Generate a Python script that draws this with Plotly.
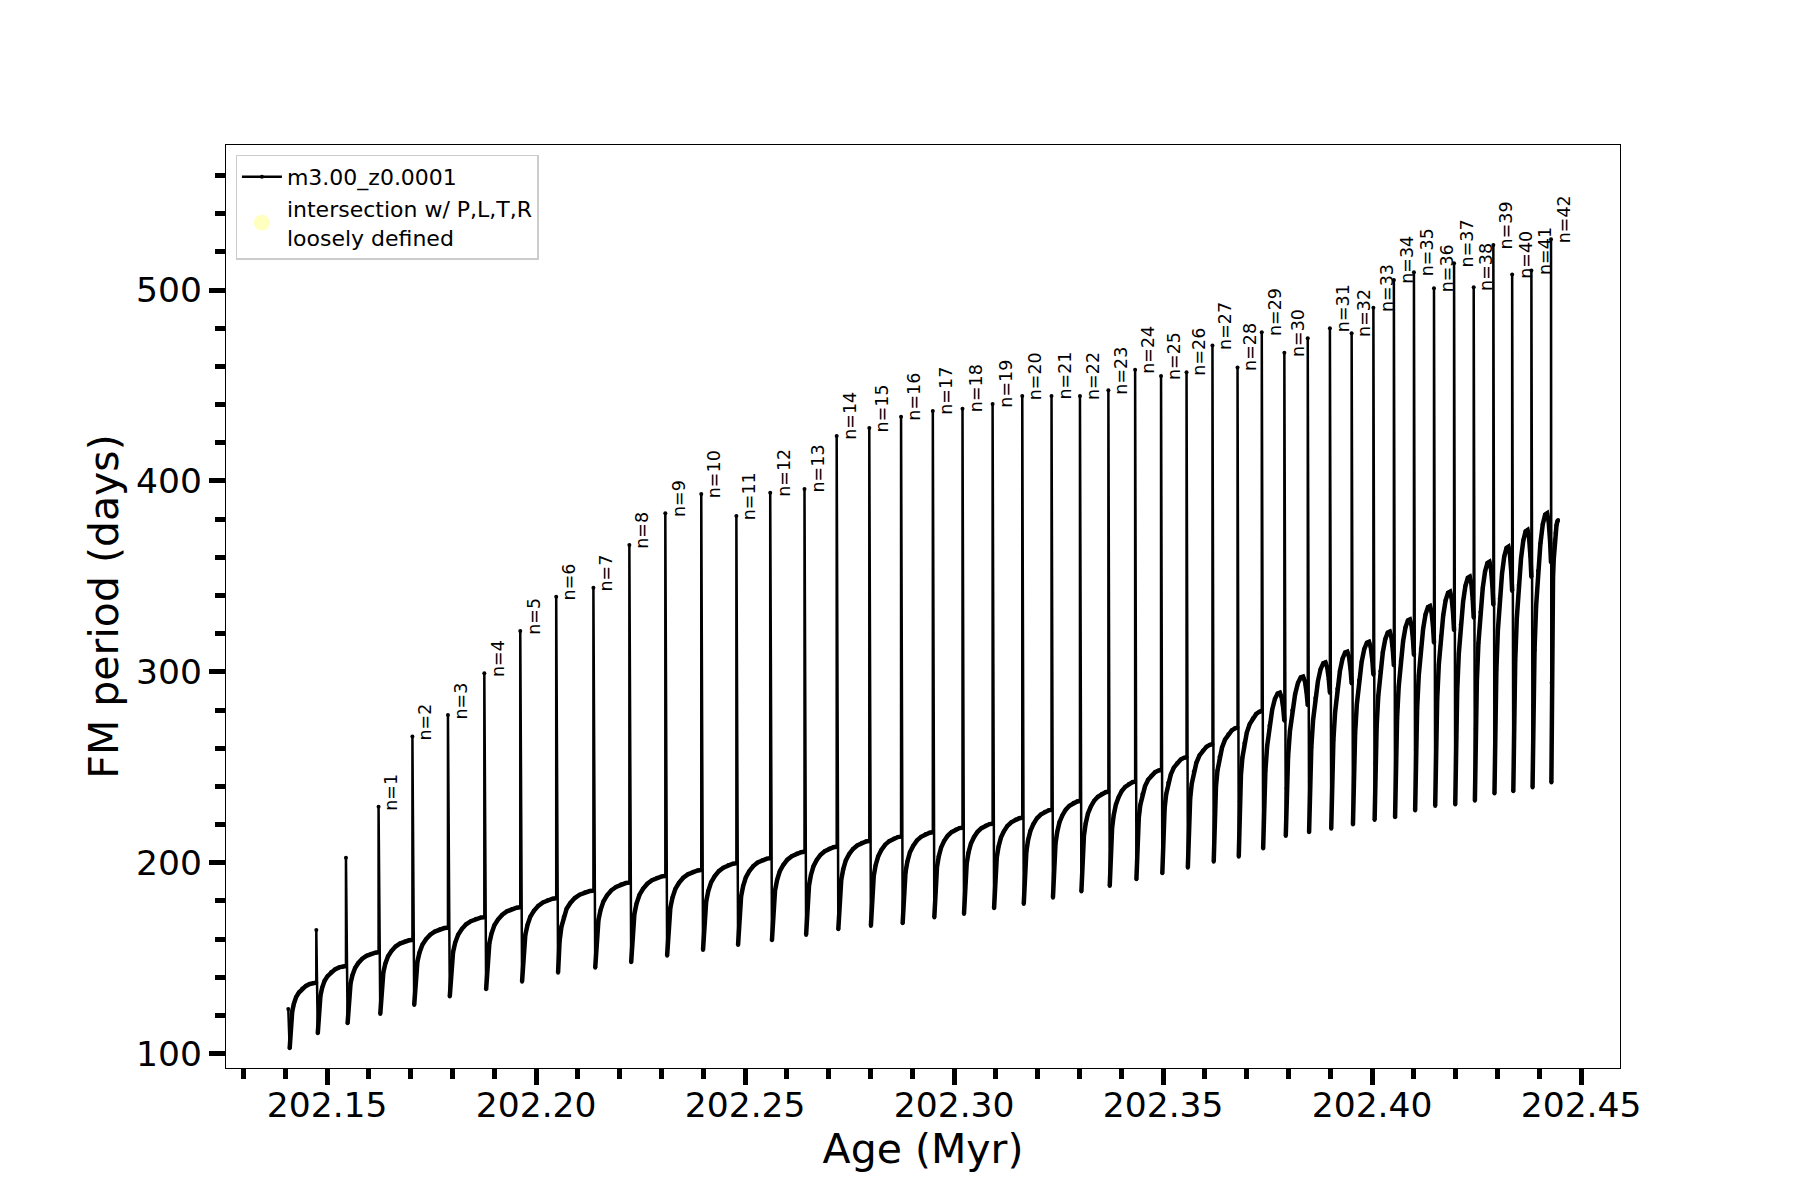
import plotly.graph_objects as go

# ---------------- data ----------------
# age (Myr) of each thermal-pulse spike (first entry = start of track)
spike_age = [202.1407, 202.1474, 202.1545, 202.1623, 202.1704, 202.1789, 202.1876, 202.1962,
             202.2048, 202.2137, 202.2223, 202.2309, 202.2395, 202.2479, 202.2560, 202.2642,
             202.2719, 202.2797, 202.2873, 202.2949, 202.3020, 202.3092, 202.3163, 202.3233,
             202.3301, 202.3369, 202.3433, 202.3495, 202.3556, 202.3618, 202.3678, 202.3736,
             202.3790, 202.3846, 202.3899, 202.3951, 202.4003, 202.4052, 202.4100, 202.4148,
             202.4196, 202.4243, 202.4290, 202.4335, 202.4381, 202.4428]
# FM period at the top of each spike (days)
spike_peak = [123.4, 164.8, 202.7, 229.4, 266.1, 277.4, 299.3, 321.4, 339.4, 344.1, 366.5,
              383.1, 393.2, 381.7, 393.9, 395.8, 423.5, 427.7, 433.7, 436.7, 437.9, 440.3,
              444.5, 444.5, 444.5, 447.5, 458.3, 455.0, 457.0, 471.0, 459.5, 477.9, 467.2,
              474.8, 480.0, 477.4, 490.8, 505.3, 509.3, 500.9, 514.0, 501.5, 523.6, 508.1,
              510.2, 526.6]
# minimum period reached just after each spike
cycle_min = [102.8, 110.7, 115.9, 120.8, 125.5, 129.9, 133.7, 137.7, 142.4, 145.0, 147.9,
             151.3, 154.3, 156.9, 159.4, 162.2, 165.2, 166.9, 168.3, 171.4, 173.2, 176.2,
             178.4, 181.7, 184.9, 187.8, 191.4, 194.5, 197.4, 200.6, 203.2, 207.5, 214.0,
             216.0, 217.8, 220.0, 222.4, 223.8, 227.4, 229.8, 230.5, 232.5, 236.3, 237.5,
             239.5, 242.0]
# highest period of the quiescent curve that follows each spike
cycle_top = [137.2, 145.9, 153.1, 159.6, 166.0, 171.5, 176.7, 181.4, 185.4, 189.6, 193.1,
             196.2, 199.7, 202.4, 205.8, 208.4, 211.4, 213.7, 216.0, 218.4, 220.5, 223.6,
             227.7, 232.4, 237.2, 242.5, 248.6, 255.3, 262.1, 270.8, 279.5, 289.1, 297.5,
             305.0, 310.6, 315.8, 321.1, 327.5, 334.5, 342.0, 349.9, 357.7, 365.6, 374.3,
             383.1, 379.6]
end_age = 202.4445

spike_label = ["", "", ""] + ["n=%d" % i for i in range(1, 31)] + [""] + \
              ["n=%d" % i for i in range(31, 43)]

# recovery shape of one inter-pulse cycle (fraction of cycle, fraction of rise)
plateau_f = [0.05, 0.09, 0.14, 0.20, 0.28, 0.38, 0.50, 0.63, 0.77, 0.90, 1.00]
plateau_r = [0.00, 0.38, 0.56, 0.68, 0.78, 0.85, 0.91, 0.95, 0.98, 0.995, 1.00]
arc_f = [0.06, 0.10, 0.16, 0.24, 0.34, 0.46, 0.58, 0.70, 0.80, 0.88, 0.95, 1.00]
arc_r = [0.00, 0.30, 0.50, 0.66, 0.79, 0.89, 0.96, 0.995, 1.00, 0.97, 0.90, 0.82]
arc_from = spike_label.index("n=29")

x_ticks = [202.15, 202.20, 202.25, 202.30, 202.35, 202.40, 202.45]
y_ticks = [100, 200, 300, 400, 500]

# ---------------- build the track ----------------
ages, periods = [], []          # full track (spikes + quiescent curves)
q_ages, q_periods = [], []      # quiescent curves only (drawn thicker, as in the dense original)
n = len(spike_age)
for k in range(n):
    t0 = spike_age[k]
    t1 = spike_age[k + 1] if k + 1 < n else end_age
    ages.append(t0)
    periods.append(spike_peak[k])
    if arc_from <= k < n - 1:
        pf, pr = arc_f, arc_r
    else:
        pf, pr = plateau_f, plateau_r
    for f, r in zip(pf, pr):
        a = t0 + f * (t1 - t0)
        p = cycle_min[k] + r * (cycle_top[k] - cycle_min[k])
        ages.append(a)
        periods.append(p)
        q_ages.append(a)
        q_periods.append(p)
    q_ages.append(None)
    q_periods.append(None)

FONT = "DejaVu Sans"
fig = go.Figure()
fig.add_trace(go.Scatter(
    x=q_ages, y=q_periods, mode="lines", showlegend=False, hoverinfo="skip",
    line=dict(color="black", width=4.5), connectgaps=False,
))
fig.add_trace(go.Scatter(
    x=ages, y=periods, mode="lines+markers", name="m3.00_z0.0001",
    line=dict(color="black", width=2.5),
    marker=dict(color="black", size=4),
))
fig.add_trace(go.Scatter(
    x=[None], y=[None], mode="markers",
    name="intersection w/ P,L,T,R<br>loosely defined",
    marker=dict(color="rgba(255,255,0,0.25)", size=16),
))

for t, p, lab in zip(spike_age, spike_peak, spike_label):
    if lab:
        fig.add_annotation(x=t, y=p, text=lab, showarrow=False, textangle=-90,
                           xanchor="left", yanchor="bottom", xshift=1, yshift=-6,
                           font=dict(family=FONT, size=17.5, color="black"))

axis_common = dict(
    showline=True, mirror=True, linecolor="black", linewidth=1.3,
    ticks="outside", ticklen=16, tickwidth=4.5, tickcolor="black",
    showgrid=False, zeroline=False,
    tickfont=dict(family=FONT, size=34.5, color="black"),
)
fig.update_xaxes(
    range=[202.1258, 202.4593], tickmode="array", tickvals=x_ticks,
    ticktext=["%.2f" % v for v in x_ticks], ticklabelstandoff=-10,
    minor=dict(ticks="outside", ticklen=10, tickwidth=4.5, tickcolor="black",
               dtick=0.01, tick0=202.1, showgrid=False),
    title=dict(text="Age (Myr)", font=dict(family=FONT, size=41, color="black"), standoff=4),
    **axis_common,
)
fig.update_yaxes(
    range=[92.5, 576.0], tickmode="array", tickvals=y_ticks,
    ticktext=[str(v) for v in y_ticks],
    minor=dict(ticks="outside", ticklen=10, tickwidth=4.5, tickcolor="black",
               dtick=20, tick0=0, showgrid=False),
    title=dict(text="FM period (days)", font=dict(family=FONT, size=41, color="black"), standoff=4),
    **axis_common,
)

fig.update_layout(
    width=1800, height=1200, autosize=False,
    margin=dict(l=218, r=188, t=137, b=140),
    paper_bgcolor="white", plot_bgcolor="white",
    font=dict(family=FONT, color="black"),
    showlegend=True,
    legend=dict(x=0.0069, y=0.9895, xanchor="left", yanchor="top",
                bgcolor="white", bordercolor="#cccccc", borderwidth=1.3,
                font=dict(family=FONT, size=22, color="black"),
                itemwidth=40, tracegroupgap=0),
)

fig.write_html("out.html")
